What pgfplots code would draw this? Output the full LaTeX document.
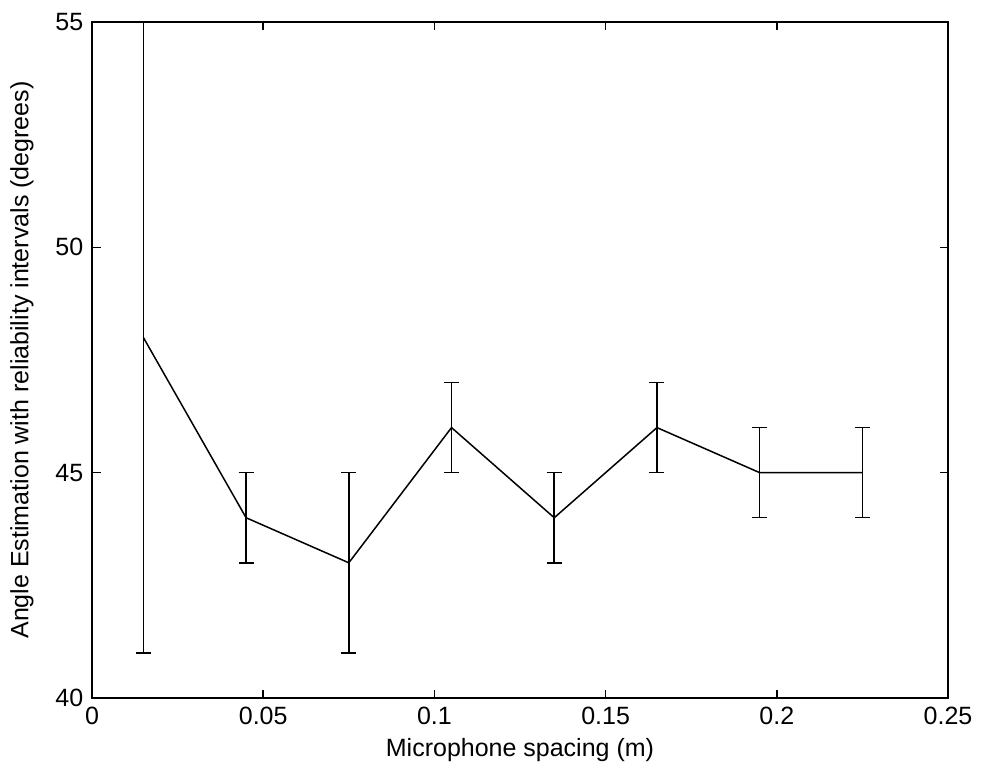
\documentclass[border=0pt]{standalone}
\usepackage{fontspec}
\setmainfont{Liberation Sans}
\usepackage{pgfplots}
\pgfplotsset{compat=1.18}
\begin{document}
\fontsize{10}{12}\selectfont
\begin{tikzpicture}
\begin{axis}[
  scale only axis,
  width=342.4pt, height=270.4pt,
  xmin=0, xmax=0.25, ymin=40, ymax=55,
  xtick={0,0.05,0.1,0.15,0.2,0.25},
  ytick={40,45,50,55},
  scaled x ticks=false,
  xticklabel style={/pgf/number format/fixed},
  /pgf/number format/assume math mode=true,
  tick align=inside,
  major tick length=3.4pt,
  tick style={black, line width=0.6pt},
  axis line style={black, line width=0.6pt},
  ticklabel style={font=\fontsize{10}{12}\selectfont},
  xlabel={Microphone spacing (m)},
  ylabel={Angle Estimation with reliability intervals (degrees)},
  xlabel style={at={(axis description cs:0.5,-0.0769)}, anchor=center, font=\fontsize{10}{12}\selectfont},
  ylabel style={at={(axis description cs:-0.0818,0.5)}, anchor=center, font=\fontsize{10}{12}\selectfont},
  clip=true,
]
\addplot[black, line width=0.6pt, no marks,
  error bars/.cd, y dir=both, y explicit,
  error bar style={black, line width=0.6pt},
  error mark options={black, mark size=3pt, line width=0.6pt, rotate=90},
] coordinates {
  (0.015,48) += (0,10) -= (0,7)
  (0.045,44) += (0,1) -= (0,1)
  (0.075,43) += (0,2) -= (0,2)
  (0.105,46) += (0,1) -= (0,1)
  (0.135,44) += (0,1) -= (0,1)
  (0.165,46) += (0,1) -= (0,1)
  (0.195,45) += (0,1) -= (0,1)
  (0.225,45) += (0,1) -= (0,1)
};
\end{axis}
\pgfresetboundingbox
\path (current axis.south west) ++(-36.8pt,-31.2pt) coordinate (bl);
\path (current axis.north east) ++(13.6pt,8.8pt) coordinate (tr);
\path[use as bounding box] (bl) rectangle (tr);
\end{tikzpicture}
\end{document}
